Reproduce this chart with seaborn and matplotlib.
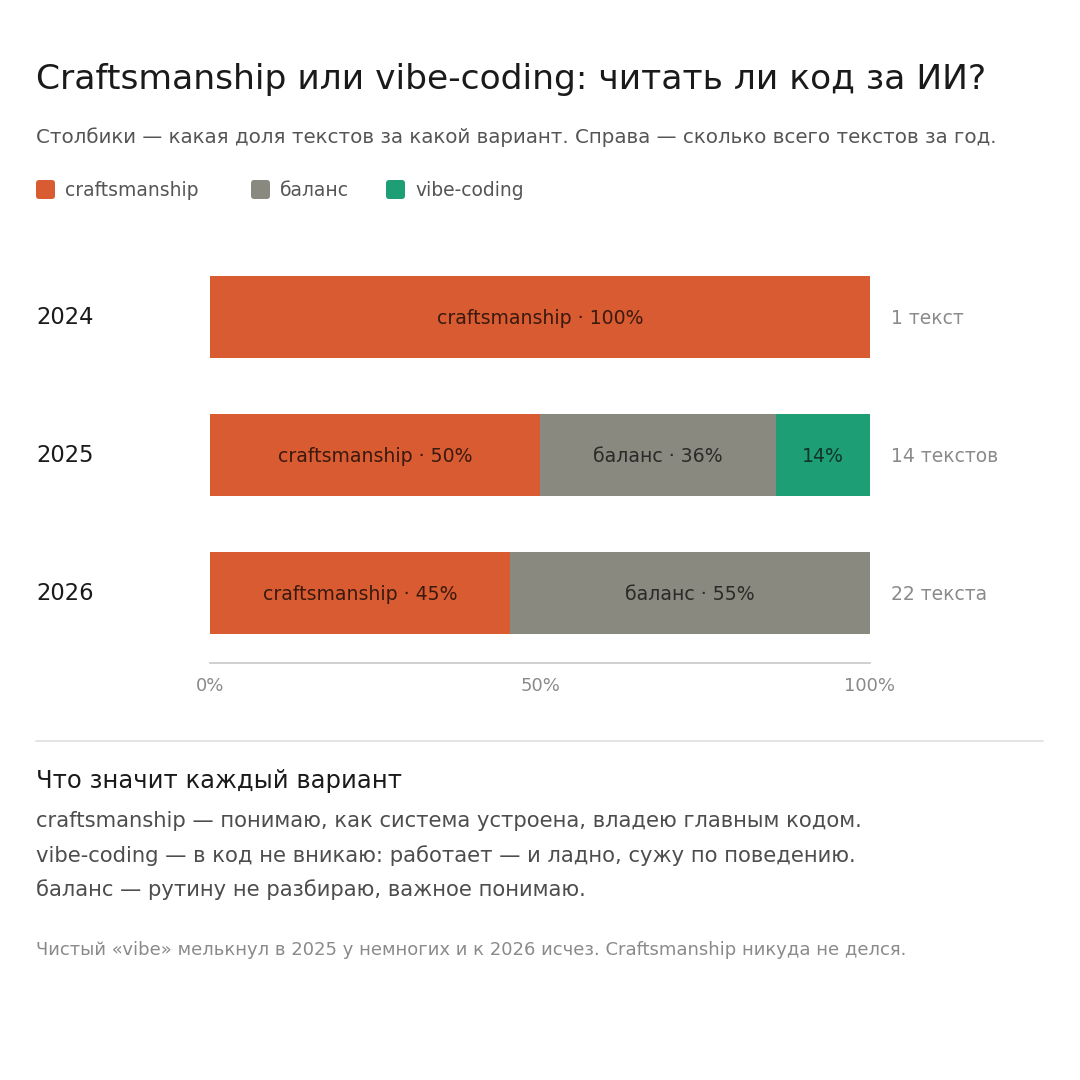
import numpy as np
import matplotlib
matplotlib.use("Agg")
import matplotlib.pyplot as plt
import matplotlib.transforms as mtransforms
from matplotlib.patches import FancyBboxPatch
import pandas as pd
import seaborn as sns

# data: number of texts per variant per year
years = ["2024", "2025", "2026"]
variants = ["craftsmanship", "баланс", "vibe-coding"]
craft_counts = [1, 7, 10]
balance_counts = [0, 5, 12]
vibe_counts = [0, 2, 0]
count_labels = ["1 текст", "14 текстов", "22 текста"]
tick_values = [0, 50, 100]
tick_labels = ["0%", "50%", "100%"]

colors = {"craftsmanship": "#D95B31", "баланс": "#8A8980", "vibe-coding": "#1E9E75"}
label_colors = {"craftsmanship": "#3A1A0E", "баланс": "#2A2A27", "vibe-coding": "#0E3527"}

counts = pd.DataFrame({"year": years, "craftsmanship": craft_counts,
                       "баланс": balance_counts, "vibe-coding": vibe_counts})
totals = counts[variants].sum(axis=1)
shares = counts[variants].div(totals, axis=0) * 100
shares["year"] = years
cum = shares[variants].cumsum(axis=1)
cum["year"] = years

sns.set_theme(style="white")
plt.rcParams["font.family"] = ["DejaVu Sans"]

fig = plt.figure(figsize=(10.8, 10.8), dpi=100)
W = H = 1080.0
ax = fig.add_axes([210 / W, 1 - 663 / H, 660 / W, (663 - 248) / H])

# stacked bars: draw cumulative totals, widest first
for v in reversed(variants):
    sns.barplot(data=cum, x=v, y="year", order=years, color=colors[v],
                width=0.59, linewidth=0, saturation=1, ax=ax)

ax.set_xlim(0, 100)
ax.set_ylim(2.507, -0.5)
ax.set_xlabel("")
ax.set_ylabel("")
ax.set_yticks([])
ax.set_xticks(tick_values)
ax.set_xticklabels(tick_labels)
ax.tick_params(axis="x", length=0, pad=10, labelsize=13, labelcolor="#8A8A8A")
for s in ["top", "right", "left"]:
    ax.spines[s].set_visible(False)
ax.spines["bottom"].set_color("#CCCCCC")
ax.spines["bottom"].set_linewidth(1.3)

# segment labels
for i, y in enumerate(years):
    left = 0
    for v in variants:
        val = shares.loc[i, v]
        if val > 0:
            txt = f"{val:.0f}%" if val < 20 else f"{v} · {val:.0f}%"
            ax.text(left + val / 2, i + 0.01, txt, ha="center", va="center",
                    fontsize=13.6, color=label_colors[v])
        left += val

# counts on the right, years on the left
tr_right = mtransforms.blended_transform_factory(ax.transAxes, ax.transData)
tr_left = mtransforms.blended_transform_factory(fig.transFigure, ax.transData)
for i, y in enumerate(years):
    ax.text(1 + 21 / 660, i + 0.01, count_labels[i], transform=tr_right, ha="left",
            va="center", fontsize=13.5, color="#8A8A8A")
    ax.text(36 / W, i, y, transform=tr_left, ha="left", va="center",
            fontsize=16.3, color="#1A1A1A")

# title and subtitle
fig.text(36 / W, 1 - 79 / H, "Craftsmanship или vibe-coding: читать ли код за ИИ?",
         fontsize=24.8, color="#1A1A1A", va="center", ha="left")
fig.text(36 / W, 1 - 137 / H,
         "Столбики — какая доля текстов за какой вариант. Справа — сколько всего текстов за год.",
         fontsize=14.3, color="#555555", va="center", ha="left")

# legend
leg_x = [36, 251, 386]
for x0, v in zip(leg_x, variants):
    fig.patches.append(FancyBboxPatch((x0 / W, 1 - 199 / H), 19 / W, 19 / H,
                                      boxstyle="round,pad=0,rounding_size=0.003",
                                      transform=fig.transFigure, facecolor=colors[v],
                                      edgecolor="none"))
    fig.text((x0 + 29) / W, 1 - 190 / H, v, fontsize=13.5, color="#555555",
             va="center", ha="left")

# separator
fig.add_artist(plt.Line2D([36 / W, 1043 / W], [1 - 741 / H, 1 - 741 / H],
                          transform=fig.transFigure, color="#E2E2E2", linewidth=1.3))

fig.text(36 / W, 1 - 781 / H, "Что значит каждый вариант", fontsize=17.5,
         color="#1A1A1A", va="center", ha="left")
definitions = [
    "craftsmanship — понимаю, как система устроена, владею главным кодом.",
    "vibe-coding — в код не вникаю: работает — и ладно, сужу по поведению.",
    "баланс — рутину не разбираю, важное понимаю.",
]
for k, line in enumerate(definitions):
    fig.text(36 / W, 1 - (821 + 34.5 * k) / H, line, fontsize=15.25,
             color="#4D4D4D", va="center", ha="left")

fig.text(36 / W, 1 - 950 / H,
         "Чистый «vibe» мелькнул в 2025 у немногих и к 2026 исчез. Craftsmanship никуда не делся.",
         fontsize=13, color="#8A8A8A", va="center", ha="left")

fig.savefig("out.png", dpi=100, facecolor="white")
